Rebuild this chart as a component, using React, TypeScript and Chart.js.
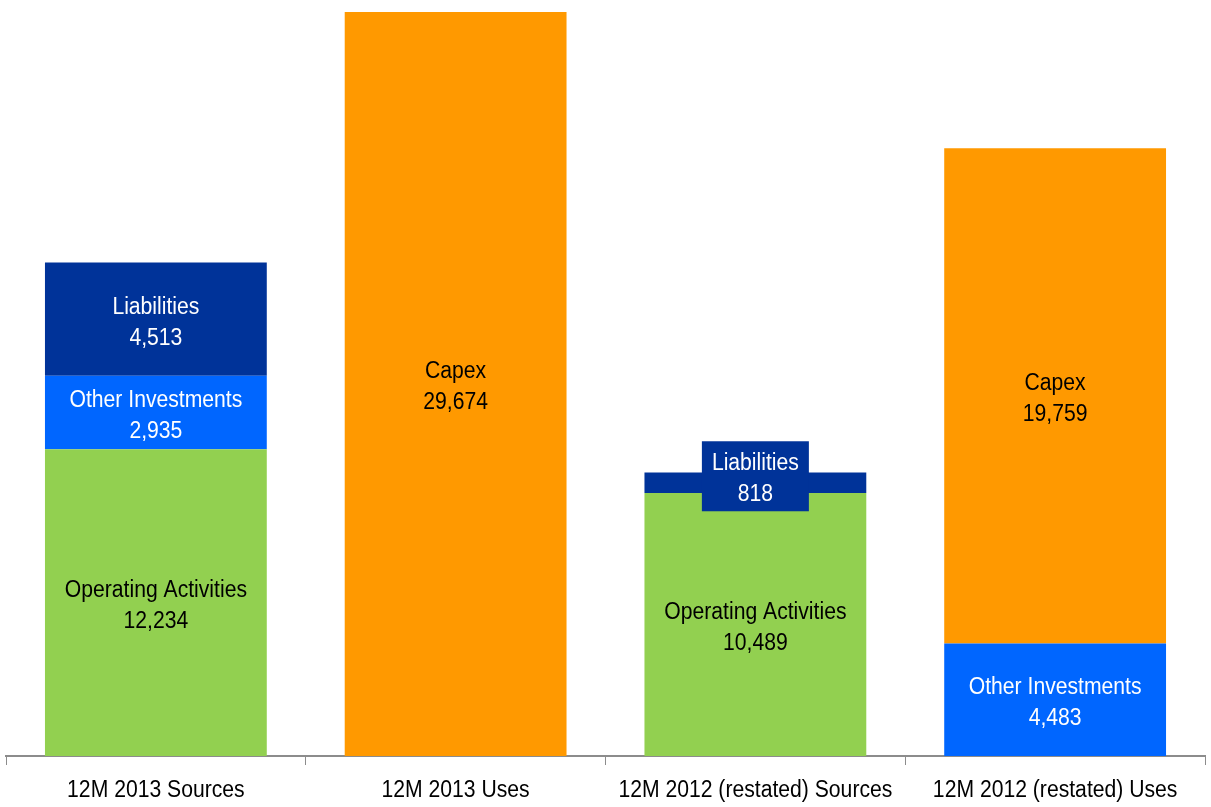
import React, { useEffect, useRef } from "react";
import { Chart, registerables } from "chart.js";

Chart.register(...registerables);

const categories = [
  "12M 2013 Sources",
  "12M 2013 Uses",
  "12M 2012 (restated) Sources",
  "12M 2012 (restated) Uses",
];
const operatingActivities = [12234, null, 10489, null];
const otherInvestments = [2935, null, null, 4483];
const liabilities = [4513, null, 818, null];
const capex = [null, 29674, null, 19759];

const seriesNames = ["Operating Activities", "Other Investments", "Liabilities", "Capex"];
const seriesColors = ["#92D050", "#0066FF", "#003399", "#FF9900"];
const textColors = ["#000000", "#FFFFFF", "#FFFFFF", "#000000"];

const FONT = "23.5px 'Liberation Sans', Arial, sans-serif";
const SQUEEZE = 0.9;

const fmt = (v: number) => v.toLocaleString("en-US");

const labelPlugin = {
  id: "segLabels",
  afterDatasetsDraw(chart: any) {
    const ctx = chart.ctx;
    const lineGap = 31;
    chart.data.datasets.forEach((ds: any, di: number) => {
      const meta = chart.getDatasetMeta(di);
      meta.data.forEach((el: any, i: number) => {
        const v = ds.data[i];
        if (v == null) return;
        const { x, y, base } = el.getProps(["x", "y", "base"], true);
        const h = Math.abs(base - y);
        const lines = [seriesNames[di], fmt(v)];
        ctx.save();
        ctx.font = FONT;
        ctx.textAlign = "center";
        ctx.textBaseline = "middle";
        let cy = (y + base) / 2 + 3.5;
        if (h < lineGap * 2) {
          const boxCy = (y + base) / 2 - 6.5;
          const w = Math.max(...lines.map((l) => ctx.measureText(l).width)) * SQUEEZE + 20;
          const bh = 70;
          ctx.fillStyle = seriesColors[di];
          ctx.fillRect(x - w / 2, boxCy - bh / 2, w, bh);
          cy = boxCy + 2.5;
        }
        ctx.fillStyle = textColors[di];
        ctx.translate(x, 0);
        ctx.scale(SQUEEZE, 1);
        ctx.fillText(lines[0], 0, cy - lineGap / 2);
        ctx.fillText(lines[1], 0, cy + lineGap / 2);
        ctx.restore();
      });
    });
  },
  afterDraw(chart: any) {
    const ctx = chart.ctx;
    const xs = chart.scales.x;
    ctx.save();
    ctx.font = FONT;
    ctx.textAlign = "center";
    ctx.textBaseline = "middle";
    ctx.fillStyle = "#000000";
    (chart.data.labels as string[]).forEach((lab, i) => {
      const px = xs.getPixelForTick(i);
      ctx.save();
      ctx.translate(px, xs.top + 34.5);
      ctx.scale(SQUEEZE, 1);
      ctx.fillText(lab, 0, 0);
      ctx.restore();
    });
    ctx.restore();
  },
};

export default function App() {
  const ref = useRef<HTMLCanvasElement | null>(null);
  useEffect(() => {
    if (!ref.current) return;
    const data = [operatingActivities, otherInvestments, liabilities, capex];
    const chart = new Chart(ref.current, {
      type: "bar",
      data: {
        labels: categories,
        datasets: data.map((d, i) => ({
          label: seriesNames[i],
          data: d,
          backgroundColor: seriesColors[i],
          borderWidth: 0,
          barPercentage: 0.74,
          categoryPercentage: 1,
        })),
      },
      plugins: [labelPlugin],
      options: {
        animation: false,
        responsive: false,
        maintainAspectRatio: false,
        layout: { padding: { top: 12, left: 6, right: 6, bottom: 42 } },
        plugins: { legend: { display: false }, tooltip: { enabled: false } },
        scales: {
          x: {
            stacked: true,
            grid: {
              drawOnChartArea: false,
              drawTicks: true,
              tickLength: 9,
              color: "#8C8C8C",
              offset: true,
            },
            border: { color: "#8C8C8C", width: 2 },
            ticks: { display: false },
          },
          y: {
            stacked: true,
            display: false,
            min: 0,
            max: 29674,
          },
        },
      },
    });
    return () => chart.destroy();
  }, []);
  return (
    <div style={{ position: "fixed", left: 0, top: 0, width: 1211, height: 807, background: "#fff" }}>
      <canvas ref={ref} width={1211} height={807} style={{ display: "block" }} />
    </div>
  );
}
